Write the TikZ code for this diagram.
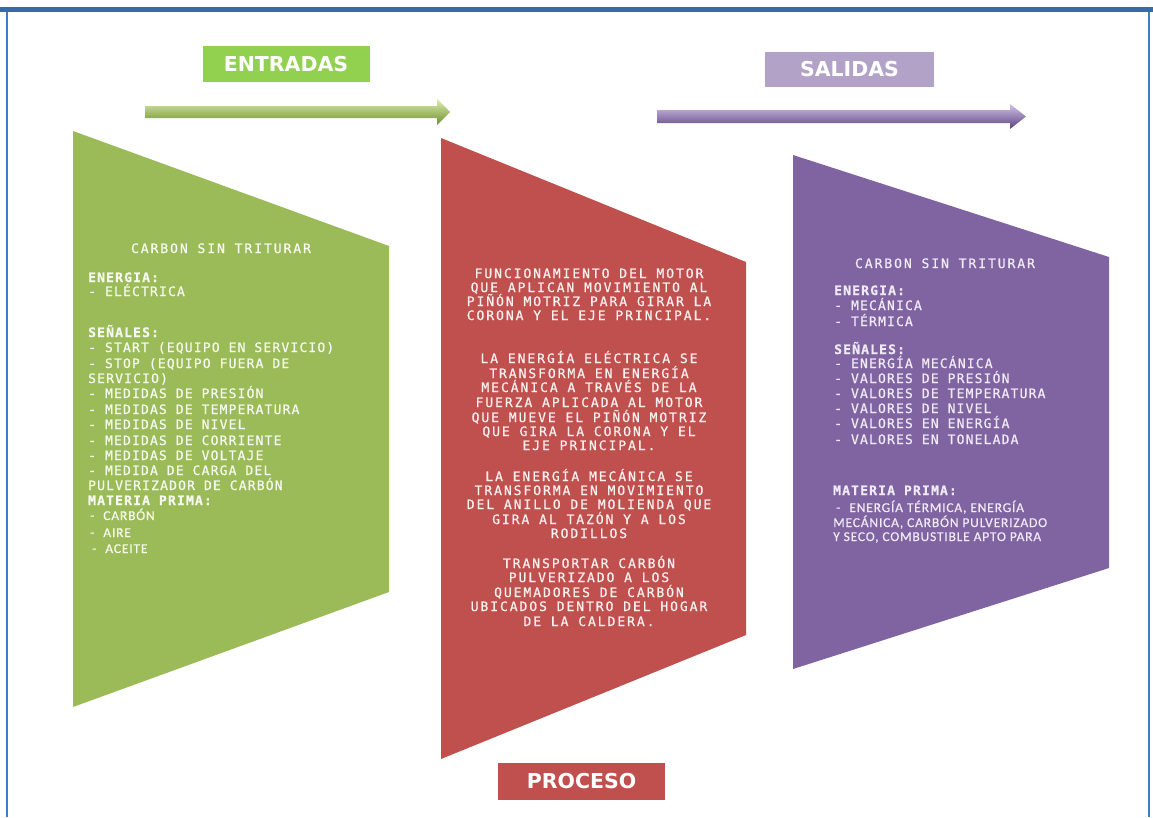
\documentclass[tikz,border=0pt]{standalone}
\usepackage{fontspec}
% list text: monospaced, slightly spaced out, a little heavier than regular
\newfontfamily\listfont[LetterSpace=9,FakeBold=0.6]{DejaVu Sans Mono}
\newfontfamily\widefont[LetterSpace=15,FakeBold=0.6]{DejaVu Sans Mono}
\newfontfamily\calfont[LetterSpace=6,FakeBold=0.5]{Carlito}
\newfontfamily\tagfont{DejaVu Sans}

\definecolor{frameblue}{HTML}{3F7DC6}
\definecolor{ingreen}{HTML}{9BBB59}
\definecolor{procred}{HTML}{C0504D}
\definecolor{outpurple}{HTML}{8064A2}
\definecolor{taggreen}{HTML}{92D050}
\definecolor{tagpurple}{HTML}{B3A2C7}
\definecolor{greentext}{HTML}{F6F9F0}
\definecolor{purpletext}{HTML}{EFEAF5}
\definecolor{redtext}{HTML}{FBF0F0}
\definecolor{arrowgreenA}{HTML}{DDEDAE}
\definecolor{arrowgreenB}{HTML}{A6CB58}
\definecolor{arrowgreenC}{HTML}{6F9130}
\definecolor{arrowpurpleA}{HTML}{D2C2E8}
\definecolor{arrowpurpleB}{HTML}{9271BE}
\definecolor{arrowpurpleC}{HTML}{5B4180}

\begin{document}
\begin{tikzpicture}[x=1pt,y=-1pt,
  tagbox/.style={fill=#1, text=white, inner sep=0,
    font=\tagfont\bfseries\fontsize{20.5}{24}\selectfont,
    minimum width=167pt, minimum height=36pt},
  liststyle/.style={inner sep=0, anchor=base west,
    font=\listfont\fontsize{13}{15}\selectfont},
  headstyle/.style={liststyle, font=\listfont\bfseries\fontsize{13}{15}\selectfont},
  titlestyle/.style={inner sep=0, anchor=base,
    font=\widefont\fontsize{13}{15}\selectfont},
  calstyle/.style={inner sep=0, anchor=base west,
    font=\calfont\fontsize{13.5}{15}\selectfont},
  proctext/.style={inner sep=0, anchor=base, text=redtext,
    font=\widefont\fontsize{13}{15}\selectfont},
]
\useasboundingbox (0,0) rectangle (1153,817);
\fill[white] (0,0) rectangle (1153,817);

% page frame (open at the bottom)
\draw[frameblue, line width=2.2pt] (7,817) -- (7,10) -- (1149,10) -- (1149,817);
\fill[frameblue!85!black] (0,7) rectangle (1153,12);

% header tags
\node[tagbox=taggreen] (entradas) at (286,64) {ENTRADAS};
\node[tagbox=tagpurple, minimum width=169pt, minimum height=35pt] (salidas) at (849.5,69.5) {SALIDAS};
\node[tagbox=procred, minimum height=37pt] (proceso) at (581.5,781.5) {PROCESO};

% direction arrows
\shade[top color=arrowgreenA, middle color=arrowgreenB, bottom color=arrowgreenC]
  (145,106) -- (437,106) -- (437,99) -- (450,112) -- (437,125) -- (437,118) -- (145,118) -- cycle;
\shade[top color=arrowpurpleA, middle color=arrowpurpleB, bottom color=arrowpurpleC]
  (657,110) -- (1010,110) -- (1010,104) -- (1026,116.5) -- (1010,129) -- (1010,123) -- (657,123) -- cycle;

% the three panels
\fill[ingreen] (73,131) -- (389,246) -- (389,592) -- (73,707) -- cycle;
\fill[procred] (441,138) -- (746,262) -- (746,635) -- (441,759) -- cycle;
\fill[outpurple] (793,155) -- (1109,257) -- (1109,568) -- (793,669) -- cycle;

% ---- inputs ----
\begin{scope}[text=greentext]
\node[titlestyle] (gtitle) at (221,253) {CARBON SIN TRITURAR};
\node[headstyle] (gh1) at (88,282) {ENERGIA:};
\node[liststyle] (ge) at (88,296) {- ELÉCTRICA};
\node[headstyle] (gh2) at (88,337) {SEÑALES:};
\foreach \yb/\txt [count=\i] in {
  352/{- START (EQUIPO EN SERVICIO)},
  368/{- STOP (EQUIPO FUERA DE},
  383/{SERVICIO)},
  398/{- MEDIDAS DE PRESIÓN},
  414/{- MEDIDAS DE TEMPERATURA},
  429/{- MEDIDAS DE NIVEL},
  445/{- MEDIDAS DE CORRIENTE},
  460/{- MEDIDAS DE VOLTAJE},
  475/{- MEDIDA DE CARGA DEL},
  490/{PULVERIZADOR DE CARBÓN}}
  \node[liststyle] (gs\i) at (88,\yb) {\txt};
\node[headstyle] (gh3) at (88,505) {MATERIA PRIMA:};
\node[calstyle] (gm1) at (90,520) {-\hspace{9pt}CARBÓN};
\node[calstyle] (gm2) at (90,537) {-\hspace{9pt}AIRE};
\node[calstyle] (gm3) at (92,553) {-\hspace{9pt}ACEITE};
\end{scope}

% ---- process ----
\foreach \yb/\txt [count=\i] in {
  278/{FUNCIONAMIENTO DEL MOTOR},
  292/{QUE APLICAN MOVIMIENTO AL},
  306/{PIÑÓN MOTRIZ PARA GIRAR LA},
  320/{CORONA Y EL EJE PRINCIPAL.},
  363/{LA ENERGÍA ELÉCTRICA SE},
  378/{TRANSFORMA EN ENERGÍA},
  392/{MECÁNICA A TRAVÉS DE LA},
  407/{FUERZA APLICADA AL MOTOR},
  422/{QUE MUEVE EL PIÑÓN MOTRIZ},
  436/{QUE GIRA LA CORONA Y EL},
  450/{EJE PRINCIPAL.},
  481/{LA ENERGÍA MECÁNICA SE},
  495/{TRANSFORMA EN MOVIMIENTO},
  509/{DEL ANILLO DE MOLIENDA QUE},
  524/{GIRA AL TAZÓN Y A LOS},
  538/{RODILLOS},
  568/{TRANSPORTAR CARBÓN},
  582/{PULVERIZADO A LOS},
  597/{QUEMADORES DE CARBÓN},
  611/{UBICADOS DENTRO DEL HOGAR},
  626/{DE LA CALDERA.}}
  \node[proctext] (p\i) at (589,\yb) {\txt};

% ---- outputs ----
\begin{scope}[text=purpletext]
\node[titlestyle] (ptitle) at (945,268) {CARBON SIN TRITURAR};
\node[headstyle] (ph1) at (834,295) {ENERGIA:};
\node[liststyle] (pe1) at (834,310) {- MECÁNICA};
\node[liststyle] (pe2) at (834,326) {- TÉRMICA};
\node[headstyle] (ph2) at (834,354) {SEÑALES:};
\foreach \yb/\txt [count=\i] in {
  368/{- ENERGÍA MECÁNICA},
  383/{- VALORES DE PRESIÓN},
  398/{- VALORES DE TEMPERATURA},
  413/{- VALORES DE NIVEL},
  428/{- VALORES EN ENERGÍA},
  444/{- VALORES EN TONELADA}}
  \node[liststyle] (ps\i) at (834,\yb) {\txt};
\node[headstyle] (ph3) at (833,495) {MATERIA PRIMA:};
\node[calstyle] (pm1) at (836,512) {-\hspace{9pt}ENERGÍA TÉRMICA, ENERGÍA};
\node[calstyle] (pm2) at (833,527) {MECÁNICA, CARBÓN PULVERIZADO};
\node[calstyle] (pm3) at (833,541) {Y SECO, COMBUSTIBLE APTO PARA};
\end{scope}
\end{tikzpicture}
\end{document}
